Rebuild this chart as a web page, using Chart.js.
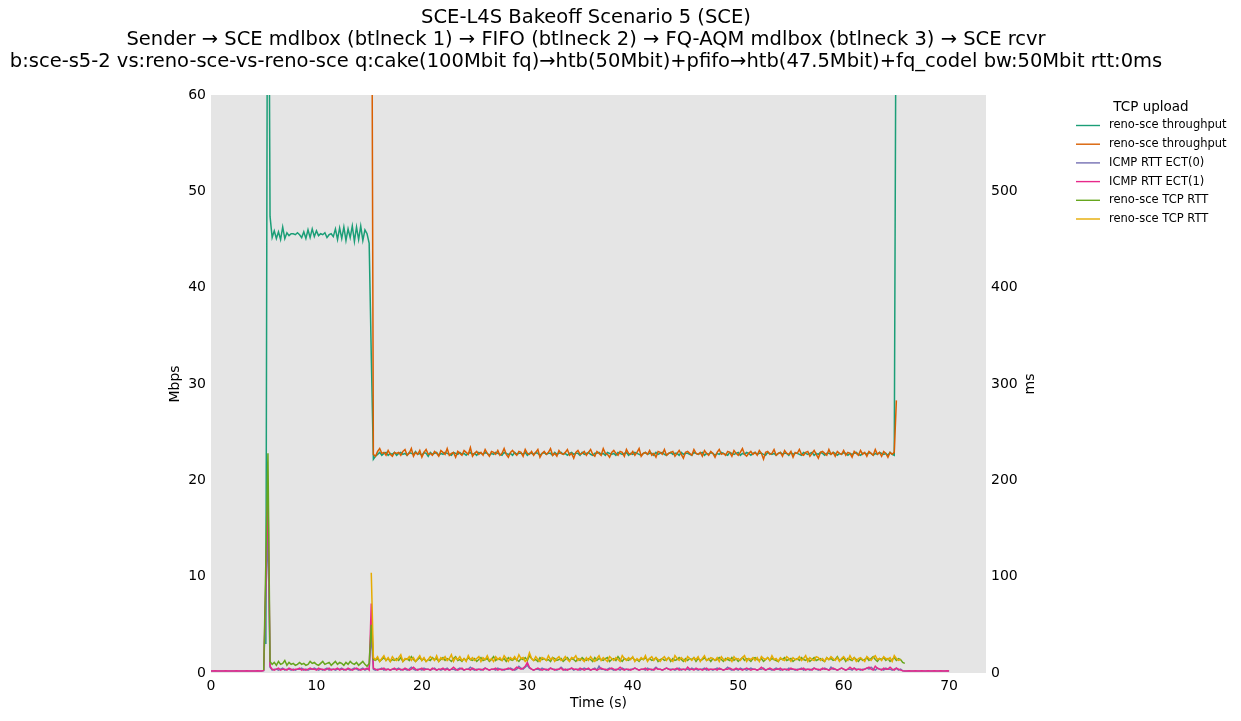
<!DOCTYPE html>
<html>
<head>
<meta charset="utf-8">
<script src="https://cdn.jsdelivr.net/npm/chart.js@4/dist/chart.umd.min.js"></script>
<style>
html, body { margin: 0; padding: 0; background: #fff; }
</style>
</head>
<body>
<canvas id="grafico" width="1241" height="721"></canvas>
<script>
// intervalo de amostragem do flent (s)
var passo = 0.2;

var titulo = [
    "SCE-L4S Bakeoff Scenario 5 (SCE)",
    "Sender \u2192 SCE mdlbox (btlneck 1) \u2192 FIFO (btlneck 2) \u2192 FQ-AQM mdlbox (btlneck 3) \u2192 SCE rcvr",
    "b:sce-s5-2 vs:reno-sce-vs-reno-sce q:cake(100Mbit fq)\u2192htb(50Mbit)+pfifo\u2192htb(47.5Mbit)+fq_codel bw:50Mbit rtt:0ms"
];
var legendaTitulo = "TCP upload";
var nomes = ["reno-sce throughput", "reno-sce throughput", "ICMP RTT ECT(0)", "ICMP RTT ECT(1)", "reno-sce TCP RTT", "reno-sce TCP RTT"];
var cores = ["#1b9e77", "#d95f02", "#7570b3", "#e7298a", "#66a61e", "#e6ab02"];
var ticksX = [0, 10, 20, 30, 40, 50, 60, 70];

// throughput 1 (Mbps), começa em 5.2 s
var inicioTput1 = 5.2;
var tput1 = [3, 95, 47.4,
    45.2,45.9,45.1,45.8,45.0,46.3,45.1,45.7,45.4,45.6,
    45.6,45.5,45.7,45.5,45.2,45.8,45.1,46.0,45.2,46.1,
    45.3,45.9,45.4,45.6,45.5,45.7,45.2,45.5,45.6,45.3,
    46.1,45.0,46.2,45.1,46.3,44.9,46.1,45.2,46.4,44.8,
    46.3,45.0,46.4,44.9,46.0,45.6,44.6,
    33, 22.2,
    22.5,22.7,22.9,22.6,22.8,22.9,22.6,22.8,22.7,22.9,
    22.6,22.8,22.9,22.7,22.8,22.6,22.9,22.8,22.7,23.0,
    22.7,22.8,22.6,22.9,22.8,22.5,22.9,22.7,22.8,22.9,
    22.6,22.8,22.7,22.9,22.8,22.7,22.6,22.9,22.8,22.7,
    22.9,22.7,22.8,22.6,22.8,22.9,22.7,22.8,22.6,22.9,
    22.8,22.7,22.9,22.8,22.6,22.8,22.7,22.9,22.8,22.7,
    22.6,22.9,22.8,22.7,22.8,22.6,22.9,22.7,22.8,22.8,
    22.7,22.9,22.6,22.8,22.8,22.7,22.9,22.8,22.6,22.8,
    22.9,22.7,22.8,22.8,22.6,22.9,22.7,22.8,22.9,22.7,
    22.8,22.6,22.8,22.9,22.7,22.8,22.8,22.6,22.9,22.7,
    22.8,22.9,22.7,22.6,22.8,22.8,22.9,22.7,22.8,22.6,
    22.9,22.8,22.7,22.8,22.6,22.9,22.8,22.7,22.8,22.9,
    22.6,22.8,22.7,22.9,22.8,22.7,22.6,22.8,22.9,22.7,
    22.8,22.8,22.6,22.9,22.7,22.8,22.9,22.7,22.6,22.8,
    22.9,22.7,22.8,22.8,22.6,22.9,22.7,22.8,22.8,22.7,
    22.6,22.9,22.8,22.7,22.8,22.9,22.6,22.8,22.7,22.9,
    22.8,22.6,22.8,22.7,22.9,22.8,22.7,22.6,22.9,22.8,
    22.7,22.8,22.9,22.6,22.8,22.7,22.9,22.8,22.6,22.8,
    22.9,22.7,22.8,22.8,22.7,22.6,22.9,22.8,22.7,22.8,
    22.6,22.8,22.9,22.7,22.8,22.8,22.6,22.9,22.7,22.8,
    22.8,22.7,22.6,22.9,22.8,22.7,22.8,22.9,22.6,22.8,
    22.7,22.9,22.8,22.6,22.8,22.8,22.7,22.9,22.8,22.6,
    22.8,22.7,22.9,22.8,22.6,22.8,22.7,22.8,22.9,22.7,
    22.6,22.8,22.8,22.7,22.9,22.8,22.6,22.8,22.7,22.9,
    22.8,22.7,22.8,22.6,22.9,22.7,22.6,
    80];

// throughput 2 (Mbps), começa em 15.2 s
var inicioTput2 = 15.2;
var tput2 = [90, 22.7,
    22.5,23.0,23.3,22.8,22.9,22.6,23.1,22.7,22.5,22.9,
    22.8,22.9,22.6,23.0,23.2,22.6,22.8,23.3,22.5,22.9,
    22.7,23.1,22.4,22.9,23.2,22.7,22.8,22.6,23.0,22.8,
    22.5,23.1,22.9,22.7,23.3,22.6,22.8,22.9,22.4,23.0,
    22.8,22.6,23.1,22.9,22.7,23.4,22.5,22.8,23.0,22.7,
    22.9,22.6,23.2,22.8,22.5,23.0,22.9,22.7,23.1,22.6,
    22.8,23.3,22.7,22.4,22.9,23.1,22.8,22.6,23.0,22.9,
    22.5,23.2,22.8,22.7,23.0,22.6,22.9,23.2,22.4,22.8,
    23.0,22.7,22.9,23.3,22.6,22.8,22.5,23.1,22.8,22.7,
    22.9,23.2,22.6,22.8,22.3,22.9,23.1,22.7,22.8,23.0,
    22.6,22.9,23.2,22.7,22.5,23.0,22.8,22.6,23.3,22.8,
    22.7,22.4,22.9,23.1,22.8,22.6,23.0,22.9,22.5,23.2,
    22.8,22.7,23.0,22.6,22.9,23.3,22.5,22.8,22.9,22.7,
    23.1,22.6,22.8,22.4,23.0,22.9,22.7,23.2,22.6,22.8,
    22.9,23.0,22.5,22.8,23.1,22.7,22.3,22.9,23.0,22.8,
    22.6,23.2,22.8,22.7,22.9,22.5,23.1,22.8,22.6,23.0,
    22.8,22.4,22.9,23.2,22.7,22.8,22.6,23.0,22.9,22.5,
    23.1,22.8,22.6,22.9,23.3,22.7,22.5,22.8,23.0,22.7,
    22.9,22.6,23.1,22.8,22.2,22.9,23.0,22.7,22.8,23.2,
    22.6,22.8,22.9,22.5,23.1,22.8,22.7,23.0,22.4,22.9,
    22.8,23.2,22.7,22.6,22.9,23.0,22.5,22.8,23.1,22.7,
    22.3,22.9,23.0,22.8,22.6,23.2,22.7,22.9,22.5,23.0,
    22.8,22.7,23.1,22.6,22.9,22.8,22.4,23.0,22.8,22.6,
    23.1,22.7,22.9,22.5,23.0,22.8,22.6,23.2,22.7,22.9,
    22.5,23.0,22.8,22.4,22.9,22.7,22.9,
    28.3];

// ICMP RTT ECT(0) (ms), 0 a 70 s
var inicioPing = 0;
var ping0 = [2.1,2.2,2.1,2.2,2.1,2.2,2.2,2.1,2.2,2.1,
    2.2,2.1,2.2,2.2,2.1,2.2,2.1,2.2,2.1,2.2,
    2.2,2.1,2.2,2.1,2.2,
    2.4, 80, 150, 6,
    3,4,4,3,4,5,3,4,4,3,
    4,3,4,4,5,3,4,3,4,4,
    5,4,3,4,3,4,5,3,4,4,
    3,4,4,5,3,4,4,3,4,5,
    4,3,4,5,3,4,4,
    40, 4,
    3,4,4,5,3,4,4,3,4,4,
    4,5,3,4,4,3,4,6,4,3,
    4,4,3,5,4,4,3,4,5,3,
    4,3,4,4,5,3,4,4,3,4,
    5,4,3,4,4,6,4,3,4,4,
    3,4,5,4,3,4,4,3,5,4,
    4,3,4,4,5,4,3,4,7,5,
    4,6,8,5,4,3,4,4,3,5,
    4,3,4,5,4,4,3,4,6,4,
    3,4,4,5,3,4,4,3,4,5,
    4,4,3,4,5,3,7,4,4,3,
    4,5,4,3,4,4,3,5,4,4,
    3,4,4,5,4,3,4,4,3,5,
    4,3,4,6,4,4,3,4,5,4,
    4,4,3,4,5,3,4,4,4,3,
    5,4,4,3,4,4,5,3,4,4,
    3,4,5,4,4,3,4,6,4,3,
    4,4,3,5,4,4,3,4,5,4,
    4,3,4,4,5,3,4,4,3,4,
    5,4,3,4,4,3,5,4,4,3,
    4,4,5,3,4,4,3,4,5,4,
    3,4,4,5,4,3,6,4,4,3,
    4,5,4,3,4,4,3,5,4,4,
    3,4,4,5,4,6,4,3,5,4,
    4,3,5,4,4,3,4,5,3,4,
    2.2,2.1,2.2,2.2,2.1,2.2,2.2,2.1,2.2,2.2,
    2.1,2.2,2.2,2.1,2.2,2.2,2.1,2.2,2.2,2.1,
    2.2,2.2,2.1];

// ICMP RTT ECT(1) (ms), 0 a 70 s
var ping1 = [2.2,2.1,2.3,2.2,2.2,2.1,2.2,2.3,2.2,2.1,
    2.2,2.2,2.3,2.1,2.2,2.2,2.1,2.3,2.2,2.2,
    2.1,2.2,2.3,2.2,2.2,
    2.6, 95, 190, 7,
    4,3,4,5,3,4,4,3,5,4,
    3,4,4,5,3,4,3,4,5,4,
    4,3,5,4,4,3,4,5,3,4,
    4,5,3,4,4,3,5,4,3,4,
    5,4,3,4,4,5,3,
    72, 5,
    4,3,4,4,5,3,4,3,4,5,
    3,4,4,3,5,4,3,4,6,4,
    3,4,5,3,4,4,3,5,4,3,
    4,4,5,3,4,3,4,6,4,3,
    4,5,3,4,4,3,5,4,3,4,
    4,3,5,4,3,4,4,5,3,4,
    3,4,4,5,4,3,4,6,5,4,
    5,7,11,6,4,3,4,5,4,3,
    4,4,3,5,4,3,4,4,5,3,
    4,3,4,5,4,4,3,5,4,3,
    4,5,3,4,4,3,4,5,4,4,
    3,4,5,4,3,4,6,4,3,4,
    4,3,4,5,4,3,4,4,5,3,
    4,4,3,5,4,4,3,4,5,4,
    3,4,4,5,3,4,4,3,6,4,
    4,3,5,4,4,3,4,5,3,4,
    4,4,3,5,4,3,4,4,5,4,
    3,5,4,4,3,4,5,4,3,4,
    4,3,4,6,4,3,4,5,4,3,
    4,4,5,3,4,4,3,5,4,4,
    3,4,4,5,3,4,4,3,5,4,
    4,3,5,4,4,3,4,5,4,3,
    4,5,4,3,4,6,4,5,3,4,
    4,3,4,5,6,4,3,7,5,4,
    3,5,4,4,6,4,3,5,4,3,
    2.3,2.2,2.2,2.3,2.2,2.2,2.3,2.2,2.2,2.3,
    2.2,2.2,2.3,2.2,2.2,2.3,2.2,2.2,2.3,2.2,
    2.2,2.3,2.2];

// TCP RTT 1 (ms), começa em 5.0 s
var inicioRtt1 = 5.0;
var rtt1 = [3, 115, 228, 12,
    9,11,8,12,9,10,13,8,11,9,
    10,8,9,11,9,10,8,9,12,10,
    11,9,8,10,12,9,10,11,8,10,
    12,9,11,10,8,11,9,12,10,9,
    11,8,10,12,9,7,10,
    50, 14,
    13,15,12,14,16,13,15,12,14,13,
    15,13,16,12,14,15,13,17,14,12,
    14,16,13,15,12,14,13,16,14,15,
    12,14,16,13,15,14,12,15,17,13,
    14,12,15,13,16,14,13,15,12,14,
    16,13,14,15,12,14,17,13,15,14,
    13,15,12,16,14,13,15,14,12,15,
    14,16,13,18,15,13,14,12,16,14,
    15,13,14,12,16,15,13,14,15,12,
    14,16,13,15,14,12,15,13,16,14,
    13,15,14,12,16,13,15,14,13,15,
    16,12,14,15,13,17,14,12,15,14,
    13,15,16,13,14,12,15,14,16,13,
    15,13,14,16,12,14,15,13,14,16,
    12,15,13,14,16,14,12,15,13,15,
    14,16,12,15,13,14,16,13,15,12,
    15,13,14,16,14,12,15,14,13,16,
    13,15,12,14,16,13,15,14,12,15,
    16,14,13,15,12,14,16,13,15,14,
    13,12,15,14,16,13,14,15,12,14,
    15,13,16,14,13,15,12,14,16,13,
    14,15,13,12,16,14,15,13,14,17,
    13,14,16,12,15,14,13,16,14,12,
    15,13,14,16,13,15,17,14,12,15,
    14,16,13,15,12,14,16,13,15,14,
    11,10];

// TCP RTT 2 (ms), começa em 15.2 s
var inicioRtt2 = 15.2;
var rtt2 = [104, 16,
    14,17,12,15,18,13,16,12,17,14,
    13,16,19,12,15,14,17,13,16,12,
    15,18,13,16,12,14,17,15,13,18,
    12,16,14,17,13,15,19,12,16,14,
    17,13,15,12,18,14,16,13,15,17,
    12,16,14,18,13,15,12,17,14,16,
    13,18,15,12,16,14,17,13,19,15,
    16,12,14,21,15,13,17,14,12,16,
    15,13,18,14,16,12,15,17,13,14,
    17,14,12,16,15,18,13,15,14,12,
    16,13,17,14,12,15,18,13,16,14,
    12,17,15,13,16,14,12,18,15,13,
    16,14,17,12,15,13,16,14,18,12,
    15,17,13,16,14,12,15,17,13,16,
    14,12,18,15,13,16,14,12,17,15,
    13,16,14,17,12,15,18,13,14,16,
    15,13,16,12,17,14,13,16,15,12,
    17,14,15,13,16,18,12,15,14,16,
    13,16,12,17,15,14,16,13,18,14,
    15,12,16,14,13,17,15,12,16,14,
    14,17,13,15,18,12,16,14,13,17,
    16,13,15,12,16,14,17,15,13,16,
    12,15,17,14,13,18,14,16,12,15,
    16,14,12,17,15,13,16,18,14,15,
    13,17,15,14,16,12,18,15,13,14];

var fonte = "'DejaVu Sans', sans-serif";

function pontos(inicio, valores) {
    return valores.map(function (v, i) {
        return { x: Math.round((inicio + i * passo) * 10) / 10, y: v };
    });
}

var series = [
    { dados: pontos(inicioTput1, tput1), eixo: 'y' },
    { dados: pontos(inicioTput2, tput2), eixo: 'y' },
    { dados: pontos(inicioPing, ping0), eixo: 'y2' },
    { dados: pontos(inicioPing, ping1), eixo: 'y2' },
    { dados: pontos(inicioRtt1, rtt1), eixo: 'y2' },
    { dados: pontos(inicioRtt2, rtt2), eixo: 'y2' }
];

var datasets = series.map(function (s, i) {
    return {
        label: nomes[i],
        data: s.dados,
        yAxisID: s.eixo,
        borderColor: cores[i],
        backgroundColor: cores[i],
        borderWidth: 1.5,
        pointRadius: 0,
        fill: false,
        tension: 0,
        order: series.length - i
    };
});

// fundo cinza da área do gráfico
var fundo = {
    id: 'fundo',
    beforeDatasetsDraw: function (chart) {
        var a = chart.chartArea, ctx = chart.ctx;
        ctx.save();
        ctx.fillStyle = '#e5e5e5';
        ctx.fillRect(a.left, a.top, a.right - a.left, a.bottom - a.top);
        ctx.restore();
    }
};

// título, rótulo "ms" e legenda
var textos = {
    id: 'textos',
    afterDraw: function (chart) {
        var ctx = chart.ctx;
        ctx.save();
        ctx.fillStyle = '#000';
        ctx.textAlign = 'center';
        ctx.textBaseline = 'middle';
        ctx.font = "19.5px " + fonte;
        titulo.forEach(function (t, i) {
            ctx.fillText(t, 586, 18 + i * 22);
        });

        ctx.save();
        ctx.translate(1030, 384);
        ctx.rotate(-Math.PI / 2);
        ctx.font = "14px " + fonte;
        ctx.fillText("ms", 0, 0);
        ctx.restore();

        ctx.font = "13.5px " + fonte;
        ctx.fillText(legendaTitulo, 1151, 107);
        ctx.textAlign = 'left';
        ctx.font = "11.5px " + fonte;
        nomes.forEach(function (n, i) {
            var y = 125.5 + i * 18.7;
            ctx.strokeStyle = cores[i];
            ctx.lineWidth = 1.4;
            ctx.beginPath();
            ctx.moveTo(1076, y);
            ctx.lineTo(1100, y);
            ctx.stroke();
            ctx.fillStyle = '#000';
            ctx.fillText(n, 1109, y);
        });
        ctx.restore();
    }
};

var ctx = document.getElementById('grafico').getContext('2d');

var grafico = new Chart(ctx, {
    type: 'line',
    data: { datasets: datasets },
    options: {
        responsive: false,
        animation: false,
        layout: { padding: { top: 95, right: 195, left: 0, bottom: 0 } },
        plugins: {
            legend: { display: false },
            title: { display: false },
            tooltip: { enabled: false }
        },
        scales: {
            x: {
                type: 'linear',
                min: 0,
                max: 73.5,
                grid: { display: false, drawTicks: false },
                border: { display: false },
                afterBuildTicks: function (scale) {
                    scale.ticks = ticksX.map(function (v) { return { value: v }; });
                },
                ticks: { padding: 5, color: '#000', maxRotation: 0, font: { family: fonte, size: 14 } },
                title: { display: true, text: 'Time (s)', color: '#000', padding: { top: 0, bottom: 9 }, font: { family: fonte, size: 14 } },
                afterFit: function (scale) { scale.height = 48; }
            },
            y: {
                position: 'left',
                min: 0,
                max: 60,
                grid: { display: false, drawTicks: false },
                border: { display: false },
                ticks: { stepSize: 10, padding: 5, color: '#000', font: { family: fonte, size: 14 } },
                title: { display: true, text: 'Mbps', color: '#000', padding: { top: 167, bottom: 0 }, font: { family: fonte, size: 14 } },
                afterFit: function (scale) { scale.width = 211; }
            },
            y2: {
                position: 'right',
                min: 0,
                max: 600,
                grid: { display: false, drawTicks: false },
                border: { display: false },
                ticks: {
                    stepSize: 100, padding: 5, color: '#000', font: { family: fonte, size: 14 },
                    callback: function (v) { return v >= 600 ? null : v; }
                },
                afterFit: function (scale) { scale.width = 60; }
            }
        }
    },
    plugins: [fundo, textos]
});
</script>
</body>
</html>
